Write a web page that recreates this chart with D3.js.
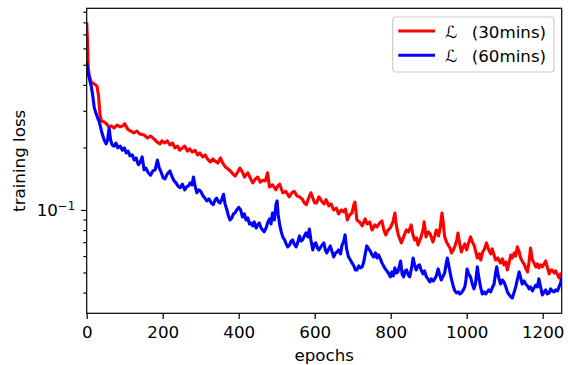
<!DOCTYPE html>
<html>
<head>
<meta charset="utf-8">
<script src="https://cdn.jsdelivr.net/npm/d3@7"></script>
<style>
body { margin: 0; background: #fff; }
svg text { font-family: "DejaVu Sans", sans-serif; fill: #000; }
</style>
</head>
<body>
<div id="target"></div>
<script>
// values
const redEpochs = [0, 2, 4, 7, 12, 20, 27, 31, 35, 39, 45, 52, 58, 65, 72, 80, 88, 95, 100, 108, 115, 124, 132, 140, 151, 160, 168, 177, 185, 193, 198, 205,
  212, 219, 226, 232, 239, 245, 252, 258, 265, 271, 278, 285, 292, 298, 305, 312, 318, 325, 332, 338, 345, 352, 358, 365, 372, 378, 385, 391, 397, 403,
  410, 415, 424, 430, 437, 444, 450, 457, 463, 470, 476, 481, 489, 498, 503, 508, 516, 524, 533, 540, 546, 553, 560, 567, 573, 578, 584, 590, 596, 600,
  605, 611, 618, 625, 630, 637, 643, 650, 657, 663, 670, 676, 681, 686, 692, 698, 703, 706, 711, 718, 725, 733, 738, 745, 751, 758, 764, 771, 777, 782, 787, 793, 799,
  806, 811, 815, 820, 828, 835, 841, 847, 854, 858, 863, 868, 872, 880, 885, 888, 893, 899, 904, 911, 916, 920, 926, 930, 935, 938, 942, 947, 951, 956, 960, 965, 969, 974, 977, 982, 986, 991, 995, 1000,
  1005, 1010, 1015, 1020, 1028, 1033, 1037, 1042, 1046, 1052, 1058, 1063, 1067, 1072, 1076, 1082, 1089, 1094, 1098, 1103, 1107, 1112, 1116, 1120, 1125, 1129,
  1133, 1138, 1142, 1147, 1151, 1155, 1160, 1164, 1168, 1173, 1177, 1182, 1186, 1190, 1195, 1199, 1204, 1208, 1212, 1217, 1221, 1225, 1230, 1234, 1239, 1243, 1247, 1250]
const redLoss = [0.80, 0.658, 0.482, 0.441, 0.413, 0.404, 0.395, 0.357, 0.287, 0.268, 0.266, 0.260, 0.251, 0.254, 0.248, 0.2565, 0.251, 0.254, 0.260, 0.245, 0.240, 0.235, 0.240, 0.232, 0.2296, 0.222, 0.227, 0.220, 0.2125, 0.208, 0.215, 0.210,
  0.215, 0.2055, 0.210, 0.199, 0.203, 0.194, 0.199, 0.203, 0.192, 0.1966, 0.190, 0.194, 0.184, 0.188, 0.180, 0.184, 0.176, 0.170, 0.176, 0.172, 0.168, 0.178, 0.168, 0.161, 0.1575, 0.154, 0.149, 0.1457, 0.152, 0.159,
  0.152, 0.144, 0.151, 0.143, 0.135, 0.141, 0.144, 0.136, 0.139, 0.138, 0.151, 0.129, 0.132, 0.125, 0.1305, 0.133, 0.121, 0.123, 0.1155, 0.121, 0.123, 0.117, 0.1155, 0.113, 0.108, 0.106, 0.114, 0.121, 0.113, 0.108,
  0.108, 0.1155, 0.1105, 0.107, 0.112, 0.1045, 0.107, 0.100, 0.102, 0.0957, 0.100, 0.0978, 0.101, 0.0895, 0.0946, 0.0967, 0.106, 0.109, 0.0895, 0.0876, 0.0838, 0.0905, 0.0856, 0.0876, 0.0801, 0.0847, 0.0828, 0.0866, 0.0885, 0.0801, 0.0758, 0.0801, 0.0819,
  0.0876, 0.0967, 0.0838, 0.0758, 0.0694, 0.0750, 0.0801, 0.0784, 0.0847, 0.0766, 0.0717, 0.0733, 0.0679, 0.0742, 0.0801, 0.0876, 0.0742, 0.0784, 0.0766, 0.0701, 0.0750, 0.0801, 0.0750, 0.0819, 0.0967, 0.0876, 0.0742, 0.0701, 0.0679, 0.0656, 0.0621, 0.0642, 0.0671, 0.0717, 0.0775, 0.0679, 0.0628, 0.0664, 0.0686, 0.0642,
  0.0694, 0.0742, 0.0701, 0.0671, 0.0587, 0.0614, 0.0574, 0.0628, 0.0642, 0.0694, 0.0642, 0.0614, 0.0649, 0.0607, 0.0574, 0.0587, 0.0556, 0.0581, 0.0544, 0.0562, 0.0514, 0.0562, 0.0607, 0.0587, 0.0621, 0.0600,
  0.0664, 0.0628, 0.0587, 0.0562, 0.0550, 0.0526, 0.0503, 0.0562, 0.0656, 0.0574, 0.0556, 0.0532, 0.0550, 0.0526, 0.0544, 0.0532, 0.0550, 0.0568, 0.0532, 0.0492, 0.0514, 0.0514, 0.0497, 0.0509, 0.0487, 0.0471, 0.0492, 0.0481]

const blueEpochs = [0, 3, 8, 12, 16, 20, 25, 29, 33, 37, 41, 46, 51, 55, 59, 63, 67, 72, 77, 82, 88, 94, 99, 104, 109, 114, 120, 125, 130, 136, 141, 146, 151, 156, 162, 168, 174, 180, 186, 191, 196, 201, 206, 212, 219,
  224, 229, 235, 240, 246, 252, 258, 263, 268, 272, 277, 281, 285, 290, 295, 300, 306, 311, 316, 322, 328, 333, 338, 342, 347, 351, 355, 360, 364, 369, 373, 377, 382, 386, 390, 395, 400,
  405, 410, 415, 419, 424, 428, 432, 437, 441, 446, 450, 454, 459, 463, 467, 472, 477, 481, 485, 489, 494, 498, 501, 504, 508, 512, 516, 521, 525, 529, 534, 538, 542, 546, 551, 555, 560, 564, 568, 573, 577, 582, 586, 590, 595, 599,
  603, 607, 611, 616, 620, 624, 628, 632, 637, 641, 646, 650, 655, 659, 663, 668, 672, 676, 680, 684, 689, 694, 698, 703, 707, 711, 716, 720, 725, 729, 733, 737, 742, 746, 751, 755, 760, 764, 768, 773, 777, 781, 786, 790, 795, 799,
  803, 807, 811, 815, 819, 823, 826, 830, 834, 838, 842, 846, 850, 855, 859, 863, 867, 872, 876, 880, 885, 889, 894, 898, 903, 907, 912, 916, 920, 925, 929, 933, 938, 942, 946, 949, 953, 957, 961, 965, 969, 973, 978, 982, 986, 991, 995, 998,
  1001, 1005, 1010, 1014, 1019, 1023, 1028, 1032, 1037, 1041, 1046, 1050, 1054, 1058, 1063, 1067, 1072, 1076, 1079, 1083, 1089, 1094, 1098, 1103, 1107, 1112, 1116, 1120, 1125, 1129, 1133, 1138, 1142, 1146,
  1151, 1155, 1160, 1164, 1168, 1173, 1177, 1182, 1186, 1190, 1195, 1199, 1204, 1208, 1212, 1217, 1221, 1225, 1230, 1234, 1239, 1243, 1247, 1250]
const blueLoss = [0.515, 0.4615, 0.422, 0.395, 0.354, 0.310, 0.290, 0.277, 0.266, 0.248, 0.232, 0.217, 0.208, 0.217, 0.248, 0.217, 0.2055, 0.203, 0.210, 0.199, 0.203, 0.194, 0.199, 0.188, 0.192, 0.182, 0.184, 0.174, 0.178, 0.165, 0.170, 0.180, 0.156, 0.159, 0.151, 0.147, 0.154, 0.156, 0.174, 0.159, 0.152, 0.143, 0.141, 0.149, 0.154,
  0.1457, 0.139, 0.135, 0.1305, 0.128, 0.133, 0.125, 0.129, 0.1305, 0.135, 0.132, 0.144, 0.1305, 0.121, 0.125, 0.123, 0.117, 0.114, 0.1105, 0.113, 0.108, 0.106, 0.112, 0.114, 0.109, 0.108, 0.112, 0.119, 0.107, 0.100, 0.0936, 0.0895, 0.0915, 0.0957, 0.0967, 0.100, 0.103,
  0.100, 0.0925, 0.0957, 0.0895, 0.0915, 0.0856, 0.0866, 0.0838, 0.0876, 0.0819, 0.0847, 0.0866, 0.0819, 0.0801, 0.0784, 0.0819, 0.0876, 0.0905, 0.0856, 0.0967, 0.0895, 0.106, 0.1105, 0.0946, 0.0847, 0.0784, 0.0742, 0.0717, 0.0686, 0.0664, 0.0679, 0.0709, 0.0717, 0.0686, 0.0664, 0.0694, 0.0750, 0.0709, 0.0717, 0.0750, 0.0775, 0.0742, 0.0810, 0.0717, 0.0642, 0.0686,
  0.0694, 0.0656, 0.0642, 0.0664, 0.0679, 0.0694, 0.0642, 0.0621, 0.0649, 0.0671, 0.0628, 0.0594, 0.0621, 0.0628, 0.0642, 0.0614, 0.0679, 0.0701, 0.0758, 0.0649, 0.0594, 0.0574, 0.0556, 0.0538, 0.0514, 0.0514, 0.0538, 0.0526, 0.0532, 0.0562, 0.0614, 0.0671, 0.0649, 0.0635, 0.0607, 0.0594, 0.0621, 0.0587, 0.0607, 0.0581, 0.0556, 0.0538, 0.0520, 0.0509, 0.0492, 0.0476,
  0.0503, 0.0481, 0.0526, 0.0497, 0.0503, 0.0538, 0.0568, 0.0492, 0.0476, 0.0509, 0.0514, 0.0487, 0.0476, 0.0526, 0.0587, 0.0544, 0.0514, 0.0538, 0.0544, 0.0514, 0.0492, 0.0509, 0.0476, 0.0466, 0.0450, 0.0466, 0.0455, 0.0466, 0.0481, 0.0520, 0.0487, 0.0460, 0.0481, 0.0497, 0.0550, 0.0587, 0.0538, 0.0492, 0.0455, 0.0426, 0.0408, 0.0399, 0.0403, 0.0394, 0.0399, 0.0412, 0.0426, 0.0460,
  0.0520, 0.0492, 0.0476, 0.0445, 0.0417, 0.0440, 0.0532, 0.0471, 0.0421, 0.0394, 0.0403, 0.0394, 0.0403, 0.0412, 0.0403, 0.0421, 0.0440, 0.0497, 0.0532, 0.0481, 0.0440, 0.0460, 0.0450, 0.0426, 0.0403, 0.0390, 0.0382, 0.0377, 0.0403, 0.0426, 0.0460, 0.0503, 0.0471, 0.0440,
  0.0455, 0.0440, 0.0431, 0.0417, 0.0426, 0.0408, 0.0421, 0.0435, 0.0426, 0.0466, 0.0421, 0.0390, 0.0403, 0.0412, 0.0394, 0.0399, 0.0417, 0.0408, 0.0403, 0.0412, 0.0408, 0.0426, 0.0445, 0.0471]

const xTicks = [0, 200, 400, 600, 800, 1000, 1200]
const yMajorTicks = [0.1]
const yMinorTicks = [0.04, 0.05, 0.06, 0.07, 0.08, 0.09, 0.2, 0.3, 0.4, 0.5, 0.6, 0.7, 0.8, 0.9]
const seriesNames = ["(30mins)", "(60mins)"]
const seriesColors = ["#ff0000", "#0000ff"]

let lossChart = () => {
    let ob = {}
    ob.width = 568
    ob.height = 365
    ob.margin = { left: 86.7, right: 6.3, top: 8.3, bottom: 51.7 }
    ob.fontSize = 16.7
    ob.lineWidth = 3.1

    ob.make = () => {
        let m = ob.margin
        let w = ob.width - m.left - m.right
        let h = ob.height - m.top - m.bottom

        ob.svg = d3.select("#target").append("svg")
            .attr("width", ob.width)
            .attr("height", ob.height)
        ob.svg.append("rect").attr("width", ob.width).attr("height", ob.height).attr("fill", "#fff")

        ob.x = d3.scaleLinear().domain([0, 1250]).range([0, w])
        ob.y = d3.scaleLog().domain([0.0318, 0.935]).range([h, 0])

        let g = ob.svg.append("g").attr("transform", `translate(${m.left},${m.top})`)

        g.append("clipPath").attr("id", "plotclip")
            .append("rect").attr("width", w).attr("height", h)

        // lines, red first then blue on top
        let series = [
            { epochs: redEpochs, loss: redLoss },
            { epochs: blueEpochs, loss: blueLoss }
        ]
        let line = d3.line().x(d => ob.x(d[0])).y(d => ob.y(d[1]))
        series.forEach((s, i) => {
            let pts = s.epochs.map((e, k) => [e, s.loss[k]])
            g.append("path")
                .attr("clip-path", "url(#plotclip)")
                .attr("d", line(pts))
                .attr("fill", "none")
                .attr("stroke", seriesColors[i])
                .attr("stroke-width", ob.lineWidth)
                .attr("stroke-linejoin", "round")
        })

        // x axis
        let xAxis = g.append("g").attr("transform", `translate(0,${h})`)
            .call(d3.axisBottom(ob.x).tickValues(xTicks).tickSize(5.8).tickPadding(5.8).tickFormat(d3.format("d")))
        xAxis.select(".domain").remove()
        xAxis.selectAll("text").attr("font-size", ob.fontSize).attr("font-family", "DejaVu Sans").attr("dy", "0.76em")

        // y axis minor ticks
        let yMinor = g.append("g")
            .call(d3.axisLeft(ob.y).tickValues(yMinorTicks).tickSize(3.3).tickFormat(""))
        yMinor.select(".domain").remove()

        // y axis major tick with 10^-1 label
        let yMajor = g.append("g")
            .call(d3.axisLeft(ob.y).tickValues(yMajorTicks).tickSize(5.8).tickFormat(""))
        yMajor.select(".domain").remove()
        yMajor.selectAll(".tick").each(function (d) {
            let exp = Math.round(Math.log10(d))
            let t = d3.select(this).select("text")
                .attr("x", -11.6).attr("dy", null).attr("y", 6)
                .attr("font-family", "DejaVu Sans").attr("font-size", ob.fontSize)
                .attr("text-anchor", "end")
            t.append("tspan").text("10")
            t.append("tspan").attr("font-size", 11.7).attr("dy", -6.5).text("\u2212" + Math.abs(exp))
        })

        g.selectAll(".tick line").attr("stroke", "#000").attr("stroke-width", 1.2)

        // frame
        g.append("rect").attr("width", w).attr("height", h)
            .attr("fill", "none").attr("stroke", "#000").attr("stroke-width", 1.2)

        // axis labels
        ob.svg.append("text")
            .attr("x", m.left + w / 2).attr("y", 361)
            .attr("text-anchor", "middle").attr("font-size", ob.fontSize)
            .text("epochs")
        ob.svg.append("text")
            .attr("transform", `translate(25,${m.top + h / 2}) rotate(-90)`)
            .attr("text-anchor", "middle").attr("font-size", ob.fontSize)
            .text("training loss")

        // legend
        let lg = ob.svg.append("g").attr("transform", "translate(392.7,17)")
        lg.append("rect").attr("width", 161.3).attr("height", 55).attr("rx", 3)
            .attr("fill", "#fff").attr("fill-opacity", 0.8)
            .attr("stroke", "#cccccc").attr("stroke-width", 1.2)
        seriesNames.forEach((name, i) => {
            let row = lg.append("g").attr("transform", `translate(0,${14 + i * 24.3})`)
            row.append("line").attr("x1", 5.6).attr("x2", 42.3).attr("y1", 0).attr("y2", 0)
                .attr("stroke", seriesColors[i]).attr("stroke-width", ob.lineWidth)
            row.append("text").attr("x", 52.3).attr("y", 7)
                .attr("font-size", ob.fontSize).attr("font-style", "italic").text("\u2112")
            row.append("text").attr("x", 79).attr("y", 7)
                .attr("font-size", ob.fontSize).text(name)
        })
    }
    return ob
}

let chart = lossChart()
chart.make()
</script>
</body>
</html>
